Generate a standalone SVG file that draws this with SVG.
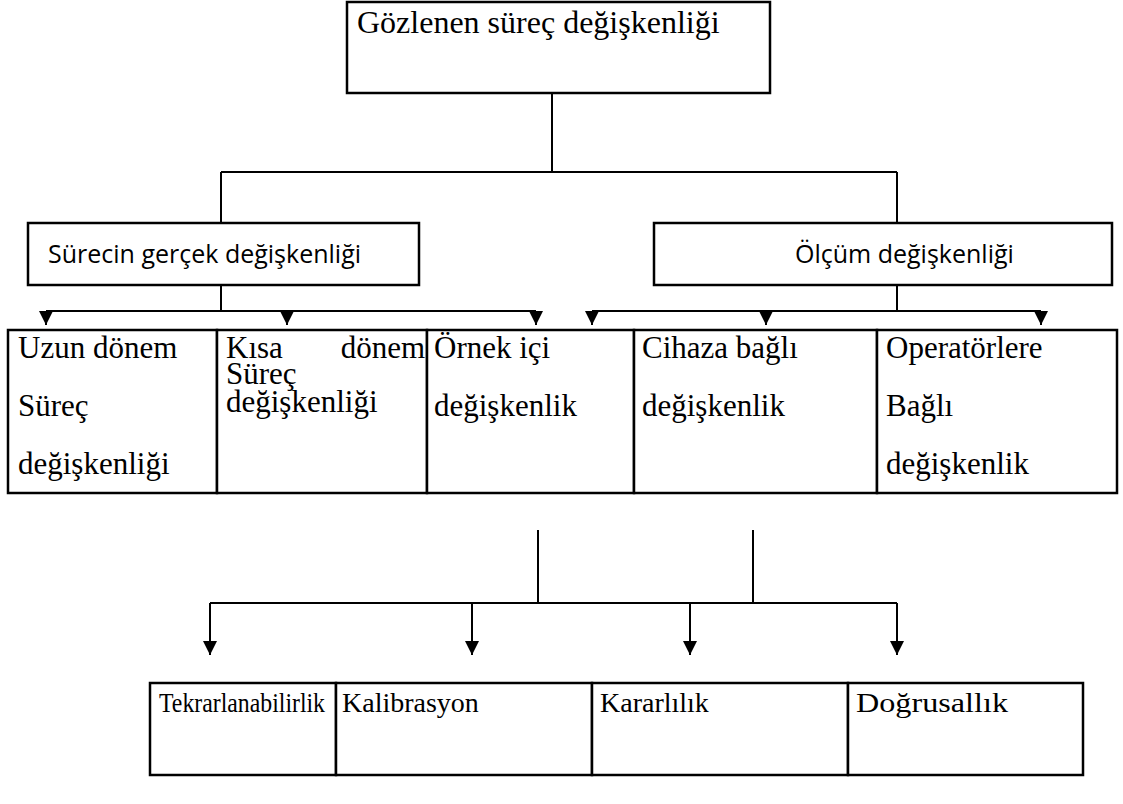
<svg xmlns="http://www.w3.org/2000/svg" width="1123" height="804" viewBox="0 0 1123 804">
<defs>
<style>
.box{fill:#fff;stroke:#000;stroke-width:2.5}
.ln{fill:none;stroke:#000;stroke-width:2}
.ser{font-family:"Liberation Serif","Times New Roman",serif;font-size:31px;fill:#000}
.big{font-size:32px}
.bot{font-size:28px}
.sans{font-family:"Open Sans","Noto Sans",sans-serif;font-size:25px;fill:#000}
</style>
<marker id="ah" viewBox="0 0 14 14" refX="14" refY="7" markerWidth="14" markerHeight="14" markerUnits="userSpaceOnUse" orient="auto">
<path d="M0,0 L14,7 L0,14 Z" fill="#000"/>
</marker>
</defs>
<g id="connectors">
<path class="ln" d="M552,93 V172 M221,172 H897 M221,172 V223 M897,172 V223"/>
<path class="ln" d="M221,285 V311 M46,311 H536 M897,285 V311 M592,311 H1041"/>
<path class="ln" d="M46,311 V325" marker-end="url(#ah)"/>
<path class="ln" d="M287,311 V325" marker-end="url(#ah)"/>
<path class="ln" d="M536,311 V325" marker-end="url(#ah)"/>
<path class="ln" d="M592,311 V325" marker-end="url(#ah)"/>
<path class="ln" d="M766,311 V325" marker-end="url(#ah)"/>
<path class="ln" d="M1041,311 V325" marker-end="url(#ah)"/>
<path class="ln" d="M538,530 V603 M753,530 V603 M210,603 H897"/>
<path class="ln" d="M210,603 V655" marker-end="url(#ah)"/>
<path class="ln" d="M472,603 V655" marker-end="url(#ah)"/>
<path class="ln" d="M690,603 V655" marker-end="url(#ah)"/>
<path class="ln" d="M897,603 V655" marker-end="url(#ah)"/>
</g>
<g id="n-gozlenen">
<rect class="box" x="347" y="2" width="423" height="91"/>
<text class="ser big" x="357" y="33">Gözlenen süreç değişkenliği</text>
</g>
<g id="n-surecin">
<rect class="box" x="28" y="223" width="391" height="62"/>
<text class="sans" x="48" y="263">Sürecin gerçek değişkenliği</text>
</g>
<g id="n-olcum">
<rect class="box" x="654" y="223" width="458" height="62"/>
<text class="sans" x="795" y="263">Ölçüm değişkenliği</text>
</g>
<g id="n-uzun">
<rect class="box" x="8" y="330" width="209" height="163"/>
<text class="ser" x="18" y="358">Uzun dönem</text>
<text class="ser" x="18" y="416">Süreç</text>
<text class="ser" x="18" y="474">değişkenliği</text>
</g>
<g id="n-kisa">
<rect class="box" x="217" y="330" width="210" height="163"/>
<text class="ser" x="226" y="358">Kısa</text>
<text class="ser" x="425" y="358" text-anchor="end">dönem</text>
<text class="ser" x="226" y="384">Süreç</text>
<text class="ser" x="226" y="412">değişkenliği</text>
</g>
<g id="n-ornek">
<rect class="box" x="427" y="330" width="207" height="163"/>
<text class="ser" x="434" y="358">Örnek içi</text>
<text class="ser" x="434" y="416">değişkenlik</text>
</g>
<g id="n-cihaz">
<rect class="box" x="634" y="330" width="243" height="163"/>
<text class="ser" x="642" y="358">Cihaza bağlı</text>
<text class="ser" x="642" y="416">değişkenlik</text>
</g>
<g id="n-operator">
<rect class="box" x="877" y="330" width="240" height="163"/>
<text class="ser" x="886" y="358">Operatörlere</text>
<text class="ser" x="886" y="416">Bağlı</text>
<text class="ser" x="886" y="474">değişkenlik</text>
</g>
<g id="n-tekrar">
<rect class="box" x="150" y="683" width="186" height="92"/>
<text class="ser bot" x="159" y="712" textLength="166" lengthAdjust="spacingAndGlyphs">Tekrarlanabilirlik</text>
</g>
<g id="n-kalib">
<rect class="box" x="336" y="683" width="256" height="92"/>
<text class="ser bot" x="342" y="712">Kalibrasyon</text>
</g>
<g id="n-karar">
<rect class="box" x="592" y="683" width="256" height="92"/>
<text class="ser bot" x="600" y="712">Kararlılık</text>
</g>
<g id="n-dogru">
<rect class="box" x="848" y="683" width="235" height="92"/>
<text class="ser bot" x="856" y="712" textLength="152" lengthAdjust="spacingAndGlyphs">Doğrusallık</text>
</g>
</svg>
